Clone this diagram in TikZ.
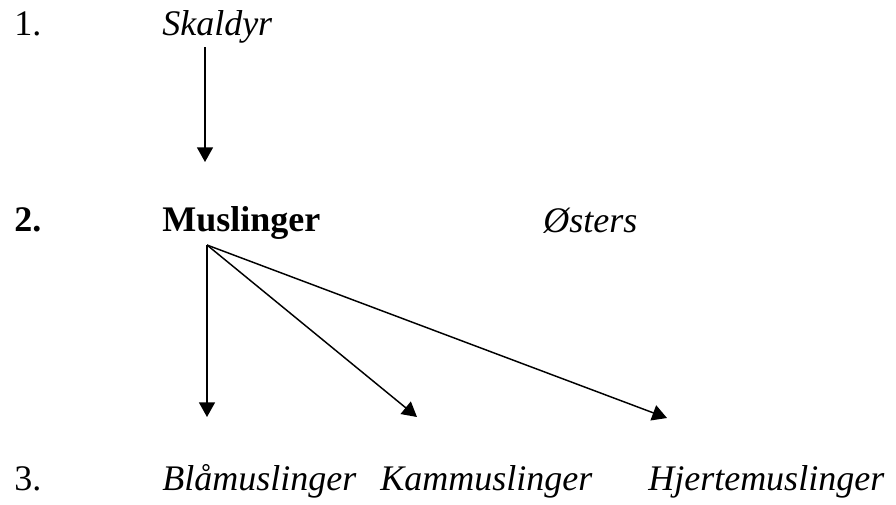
\documentclass[tikz,border=0pt]{standalone}
\usepackage{fontspec}
\setmainfont{Liberation Serif}
\usetikzlibrary{arrows.meta}

\begin{document}
\begin{tikzpicture}[x=0.75pt,y=-0.75pt,
  every node/.style={anchor=base west,inner sep=0pt,font=\fontsize{27}{32}\selectfont},
  pil/.style={-{Triangle[length=11pt,width=12pt]},line width=1.1pt}]
\useasboundingbox (0,0) rectangle (896,504);
\node (n1) at (14,35)  {1.};
\node (skal) at (162,35)  {\itshape Skaldyr};
\node (n2) at (14,231)  {\bfseries 2.};
\node (musl) at (162,231)  {\bfseries Muslinger};
\node (oest) at (543,232)  {\itshape Østers};
\node (n3) at (14,490)  {3.};
\node (blaa) at (162,490)  {\itshape Blåmuslinger};
\node (kamm) at (380,490)  {\itshape Kammuslinger};
\node (hjer) at (648,490)  {\itshape Hjertemuslinger};

\coordinate (s) at (205,47);
\coordinate (m) at (207,245);
\coordinate (t0) at (205,162);
\coordinate (t1) at (207,417);
\coordinate (t2) at (417,417);
\coordinate (t3) at (667,418);

\path [pil]
(s) edge (t0)
(m) edge (t1)
    edge (t2)
    edge (t3);
\end{tikzpicture}
\end{document}
